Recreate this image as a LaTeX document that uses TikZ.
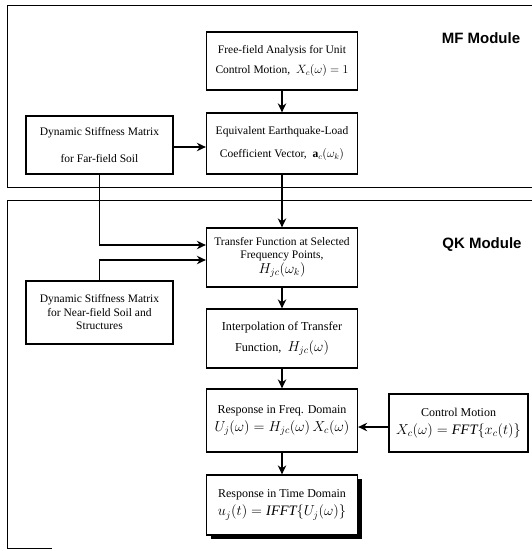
\documentclass[tikz,border=0pt]{standalone}
\usepackage{fontspec}
\setmainfont{Liberation Serif}
\newfontfamily\boxfont{Liberation Serif}
\newfontfamily\modfont{Liberation Sans}
\usetikzlibrary{arrows.meta,shadows}
\newcommand{\fmlsize}{\fontsize{14}{16}\selectfont}
\newcommand{\bigfml}{\fontsize{14.4}{17}\selectfont}
\begin{document}
\begin{tikzpicture}[x=1pt,y=-1pt,
  box/.style={draw,line width=1.3pt,rectangle,align=center,fill=white,
    font=\boxfont\fontsize{11.5}{13.5}\selectfont,inner sep=0pt,minimum width=151pt},
  largebox/.style={box,font=\boxfont\fontsize{12}{14}\selectfont},
  arr/.style={line width=1.3pt,-{Stealth[length=9pt,width=8.5pt]}},
  frameline/.style={line width=0.9pt},
  modlabel/.style={font=\modfont\bfseries\fontsize{15}{18}\selectfont}]
\useasboundingbox (0,0) rectangle (532,551);
% module frames
\draw[frameline] (532,5) -- (7,5) -- (7,187) -- (532,187);
\draw[frameline] (532,200) -- (7,200) -- (7,548) -- (52,548);
\node[modlabel] (mf) at (481,38) {MF Module};
\node[modlabel] (qk) at (482,245) {QK Module};
% boxes
\node[box,minimum height=58pt] (free) at (282,61)
  {Free-field Analysis for Unit\\[6pt] Control Motion,\ \ $X_c(\omega)=1$};
\node[box,minimum height=61pt] (equiv) at (282,143.5)
  {Equivalent Earthquake-Load\\[10pt] Coefficient Vector,\ \ $\mathbf{a}_c(\omega_k)$};
\node[box,minimum width=147pt,minimum height=58pt] (far) at (99.5,145)
  {Dynamic Stiffness Matrix\\[14pt] for Far-field Soil};
\node[box,minimum height=59pt] (transfer) at (282,257.5)
  {Transfer Function at Selected\\ Frequency Points,\\[1pt] {\fmlsize$H_{jc}(\omega_k)$}};
\node[box,minimum width=147pt,minimum height=63pt] (near) at (99.5,312.5)
  {Dynamic Stiffness Matrix\\ for Near-field Soil and\\ Structures};
\node[box,font=\boxfont\fontsize{12.2}{14.2}\selectfont,minimum height=59pt] (interp) at (282,338.5)
  {Interpolation of Transfer\\[7pt] Function,\ \ {\fmlsize$H_{jc}(\omega)$}};
\node[largebox,minimum height=63pt] (freq) at (282,420.5)
  {Response in Freq. Domain\\[4pt] {\bigfml$U_j(\omega)=H_{jc}(\omega)\,X_c(\omega)$}};
\node[largebox,minimum width=139pt,minimum height=58pt] (control) at (458.5,423)
  {Control Motion\\[4pt] {\bigfml$X_c(\omega)=\mathit{FFT}\{x_c(t)\}$}};
\node[largebox,minimum height=60pt,
  drop shadow={shadow xshift=4pt,shadow yshift=-4pt,fill=black,opacity=1}] (time) at (282,505)
  {Response in Time Domain\\[4pt] {\bigfml$u_j(t)=\mathit{IFFT}\{U_j(\omega)\}$}};
% connectors
\draw[arr] (free.south) -- (equiv.north);
\draw[arr] ([yshift=-2pt]far.east) -- ([yshift=-2pt]far.east -| equiv.west);
\draw[arr] (equiv.south) -- (transfer.north);
\draw[arr] (far.south) |- ([yshift=12.5pt]transfer.west);
\draw[arr] (near.north) |- ([yshift=-2.5pt]transfer.west);
\draw[arr] (transfer.south) -- (interp.north);
\draw[arr] (interp.south) -- (freq.north);
\draw[arr] ([yshift=-4pt]control.west) -- ([yshift=-4pt]control.west -| freq.east);
\draw[arr] (freq.south) -- (time.north);
\end{tikzpicture}
\end{document}
